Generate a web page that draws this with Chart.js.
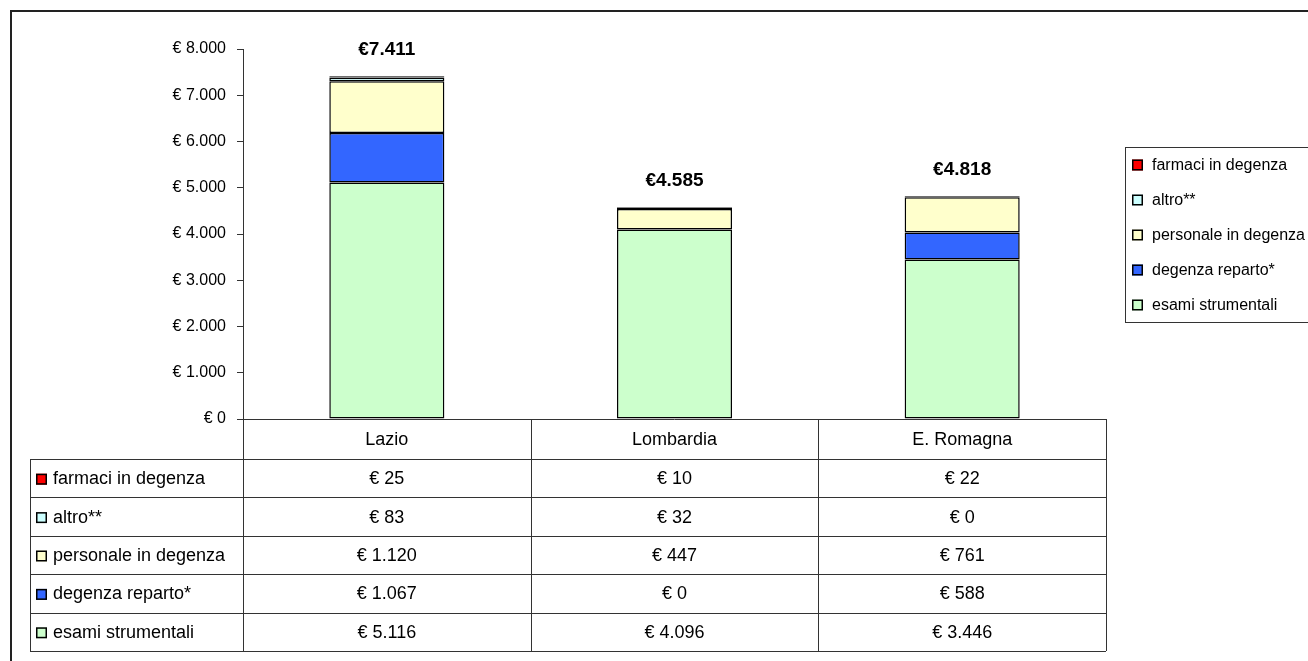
<!DOCTYPE html>
<html>
<head>
<meta charset="utf-8">
<script src="https://cdn.jsdelivr.net/npm/chart.js@4"></script>
<style>
  html, body { margin: 0; padding: 0; background: #fff; }
  canvas { display: block; }
</style>
</head>
<body>
<canvas id="costChart" width="1308" height="661"></canvas>
<script>
// categorie e valori (euro)
const regioni = ['Lazio', 'Lombardia', 'E. Romagna'];
const farmaci = [25, 10, 22];
const altro = [83, 32, 0];
const personale = [1120, 447, 761];
const degenza = [1067, 0, 588];
const esami = [5116, 4096, 3446];
const totali = [7411, 4585, 4818];
const yTicks = [0, 1000, 2000, 3000, 4000, 5000, 6000, 7000, 8000];

const FONT = "'Liberation Sans', Arial, sans-serif";

function euro(v) {
  return String(v).replace(/\B(?=(\d{3})+(?!\d))/g, '.');
}

// ordine di impilamento dal basso verso l'alto
const serie = [
  { label: 'esami strumentali', data: esami, color: '#CCFFCC' },
  { label: 'degenza reparto*', data: degenza, color: '#3366FF' },
  { label: 'personale in degenza', data: personale, color: '#FFFFCC' },
  { label: 'altro**', data: altro, color: '#CCFFFF' },
  { label: 'farmaci in degenza', data: farmaci, color: '#FF0000' }
];

function swatch(ctx, x, cy, color) {
  ctx.fillStyle = color;
  ctx.fillRect(x, cy - 5.5, 11, 11);
  ctx.strokeStyle = '#000';
  ctx.lineWidth = 1.5;
  ctx.strokeRect(x + 0.75, cy - 4.75, 9.5, 9.5);
}

// cornice esterna
const framePlugin = {
  id: 'frame',
  beforeDraw(chart) {
    const ctx = chart.ctx;
    ctx.save();
    ctx.fillStyle = '#fff';
    ctx.fillRect(0, 0, chart.width, chart.height);
    ctx.strokeStyle = '#222';
    ctx.lineWidth = 2;
    ctx.beginPath();
    ctx.moveTo(11, chart.height + 2);
    ctx.lineTo(11, 11);
    ctx.lineTo(chart.width + 2, 11);
    ctx.stroke();
    ctx.restore();
  }
};

// etichette dei totali sopra le colonne
const totalsPlugin = {
  id: 'totals',
  afterDatasetsDraw(chart) {
    const ctx = chart.ctx;
    const x = chart.scales.x, y = chart.scales.y;
    ctx.save();
    ctx.font = 'bold 19px ' + FONT;
    ctx.fillStyle = '#000';
    ctx.textAlign = 'center';
    ctx.textBaseline = 'middle';
    totali.forEach((t, i) => {
      ctx.fillText('€' + euro(t), x.getPixelForValue(i), y.getPixelForValue(t) - 26);
    });
    ctx.restore();
  }
};

// legenda a destra
const legendPlugin = {
  id: 'legendBox',
  afterDraw(chart) {
    const ctx = chart.ctx;
    const bx = 1125, by = 147, bh = 175;
    ctx.save();
    ctx.strokeStyle = '#333';
    ctx.lineWidth = 1;
    ctx.strokeRect(bx + 0.5, by + 0.5, chart.width, bh);
    ctx.font = '16px ' + FONT;
    ctx.textBaseline = 'middle';
    ctx.textAlign = 'left';
    const items = serie.slice().reverse();
    items.forEach((s, i) => {
      const cy = by + 18 + i * 35;
      swatch(ctx, 1132, cy, s.color);
      ctx.fillStyle = '#000';
      ctx.fillText(s.label, 1152, cy + 1);
    });
    ctx.restore();
  }
};

// tabella dati sotto il grafico
const tablePlugin = {
  id: 'dataTable',
  afterDraw(chart) {
    const ctx = chart.ctx;
    const area = chart.chartArea;
    const x = chart.scales.x;
    const top = area.bottom;
    const headH = 40, rowH = 38.4;
    const tabLeft = 30;
    const rows = serie.slice().reverse();
    const bottom = top + headH + rows.length * rowH;
    const half = (area.right - area.left) / regioni.length / 2;
    const edges = [area.left];
    regioni.forEach((r, i) => edges.push(x.getPixelForValue(i) + half));

    ctx.save();
    ctx.strokeStyle = '#333';
    ctx.lineWidth = 1;
    ctx.beginPath();
    // asse x / bordo superiore intestazione
    ctx.moveTo(area.left, Math.round(top) + 0.5);
    ctx.lineTo(area.right, Math.round(top) + 0.5);
    edges.forEach(e => {
      ctx.moveTo(Math.round(e) + 0.5, top);
      ctx.lineTo(Math.round(e) + 0.5, bottom);
    });
    ctx.moveTo(tabLeft + 0.5, top + headH);
    ctx.lineTo(tabLeft + 0.5, bottom);
    for (let r = 0; r <= rows.length; r++) {
      const ly = Math.round(top + headH + r * rowH) + 0.5;
      ctx.moveTo(tabLeft, ly);
      ctx.lineTo(area.right, ly);
    }
    ctx.stroke();

    ctx.font = '18px ' + FONT;
    ctx.fillStyle = '#000';
    ctx.textBaseline = 'middle';
    ctx.textAlign = 'center';
    regioni.forEach((r, i) => {
      ctx.fillText(r, x.getPixelForValue(i), top + headH / 2 + 1);
    });
    rows.forEach((s, ri) => {
      const cy = top + headH + ri * rowH + rowH / 2 + 1;
      swatch(ctx, 36, cy, s.color);
      ctx.fillStyle = '#000';
      ctx.textAlign = 'left';
      ctx.fillText(s.label, 53, cy);
      ctx.textAlign = 'center';
      s.data.forEach((v, i) => {
        ctx.fillText('€ ' + euro(v), x.getPixelForValue(i), cy);
      });
    });
    ctx.restore();
  }
};

new Chart(document.getElementById('costChart'), {
  type: 'bar',
  data: {
    labels: regioni,
    datasets: serie.map(s => ({
      label: s.label,
      data: s.data,
      backgroundColor: s.color,
      borderColor: '#000',
      borderWidth: 1.5,
      borderSkipped: false,
      categoryPercentage: 1,
      barPercentage: 0.4
    }))
  },
  options: {
    responsive: false,
    animation: false,
    devicePixelRatio: 1,
    layout: { padding: { left: 0, right: 202, top: 49, bottom: 242 } },
    plugins: {
      legend: { display: false },
      title: { display: false },
      tooltip: { enabled: false }
    },
    scales: {
      x: {
        stacked: true,
        display: false
      },
      y: {
        stacked: true,
        min: 0,
        max: 8000,
        afterFit: s => { s.width = 243; },
        afterBuildTicks: s => { s.ticks = yTicks.map(v => ({ value: v })); },
        border: { display: true, color: '#333', width: 1 },
        grid: {
          display: true,
          drawOnChartArea: false,
          drawTicks: true,
          tickLength: 6,
          color: '#333'
        },
        ticks: {
          padding: 11,
          color: '#000',
          font: { family: FONT, size: 16 },
          callback: v => '€ ' + euro(v)
        }
      }
    }
  },
  plugins: [framePlugin, totalsPlugin, legendPlugin, tablePlugin]
});
</script>
</body>
</html>
